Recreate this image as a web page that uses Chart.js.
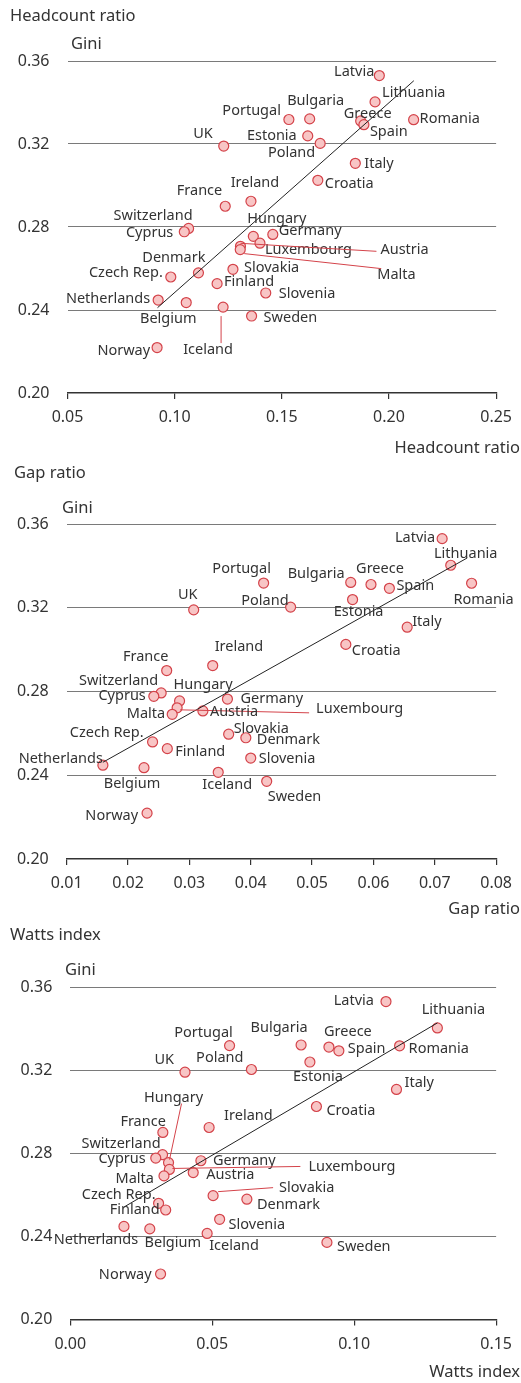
<!DOCTYPE html>
<html>
<head>
<meta charset="utf-8">
<script src="https://cdn.jsdelivr.net/npm/chart.js@4"></script>
<style>
  body { margin: 0; background: #fff; }
  canvas { position: absolute; left: 0; }
</style>
</head>
<body>
<canvas id="c1" width="521" height="460" style="top:0px"></canvas>
<canvas id="c2" width="521" height="460" style="top:460px"></canvas>
<canvas id="c3" width="521" height="463" style="top:920px"></canvas>
<script>
// data
const countries = ["Latvia", "Lithuania", "Romania", "Portugal", "Bulgaria", "Greece", "Spain",
  "Estonia", "Poland", "UK", "Italy", "Croatia", "Ireland", "France", "Switzerland", "Cyprus",
  "Hungary", "Germany", "Luxembourg", "Austria", "Malta", "Slovakia", "Denmark", "Czech Rep.",
  "Finland", "Slovenia", "Netherlands", "Belgium", "Iceland", "Sweden", "Norway"];
const gini = [0.353, 0.3403, 0.3317, 0.3318, 0.3321, 0.3311, 0.3293, 0.3239, 0.3203, 0.319,
  0.3107, 0.3025, 0.2924, 0.29, 0.2793, 0.2777, 0.2755, 0.2764, 0.2722, 0.2707, 0.2691, 0.2596,
  0.2579, 0.2559, 0.2527, 0.2482, 0.2448, 0.2436, 0.2414, 0.2371, 0.2219];
const headcount = [0.1955, 0.1935, 0.2115, 0.1533, 0.163, 0.1868, 0.1883, 0.1621, 0.1679, 0.1229,
  0.1843, 0.1668, 0.1356, 0.1236, 0.1065, 0.1045, 0.1367, 0.1458, 0.1398, 0.1307, 0.1306, 0.1272,
  0.1111, 0.0982, 0.1198, 0.1425, 0.0923, 0.1054, 0.1226, 0.1359, 0.0918];
const gapRatio = [0.0712, 0.0726, 0.076, 0.0421, 0.0563, 0.0596, 0.0626, 0.0566, 0.0465, 0.0307,
  0.0655, 0.0555, 0.0338, 0.0263, 0.0254, 0.0242, 0.0284, 0.0362, 0.028, 0.0322, 0.0272, 0.0364,
  0.0392, 0.024, 0.0264, 0.04, 0.0159, 0.0226, 0.0347, 0.0426, 0.0231];
const wattsIndex = [0.1112, 0.1293, 0.116, 0.0561, 0.0813, 0.0911, 0.0946, 0.0844, 0.0638, 0.0404,
  0.1149, 0.0867, 0.0489, 0.0326, 0.0325, 0.0301, 0.0346, 0.046, 0.0349, 0.0433, 0.033, 0.0503,
  0.0622, 0.0311, 0.0336, 0.0526, 0.0189, 0.028, 0.0482, 0.0904, 0.0318];

// fitted lines (ends)
const fitHeadcountX = [0.092, 0.2116];
const fitHeadcountY = [0.2411, 0.3505];
const fitGapX = [0.0159, 0.0753];
const fitGapY = [0.2462, 0.3438];
const fitWattsX = [0.0189, 0.1293];
const fitWattsY = [0.2541, 0.3427];

// ticks
const giniTicks = [0.2, 0.24, 0.28, 0.32, 0.36];
const headcountTicks = [0.05, 0.1, 0.15, 0.2, 0.25];
const gapTicks = [0.01, 0.02, 0.03, 0.04, 0.05, 0.06, 0.07, 0.08];
const wattsTicks = [0, 0.05, 0.1, 0.15];

// label placement: [dx, dy, align, leader line]
const labels1 = {
  "Latvia": [-5, -4, "right"], "Lithuania": [7, -9, "left"], "Romania": [6, -1, "left"],
  "Portugal": [-8, -9, "right"], "Bulgaria": [6, -18, "center"], "Greece": [7, -7, "center"],
  "Spain": [6, 7, "left"], "Estonia": [-11, 0, "right"], "Poland": [-5, 9, "right"],
  "UK": [-11, -12, "right"], "Italy": [9, 1, "left"], "Croatia": [7, 4, "left"],
  "Ireland": [4, -18, "center"], "France": [-3, -15, "right"], "Switzerland": [4, -13, "right"],
  "Cyprus": [-11, 1, "right"], "Hungary": [-6, -17, "left"], "Germany": [6, -4, "left"],
  "Luxembourg": [5, 7, "left"], "Austria": [140, 4, "left", [0, -3, 136, 5]],
  "Malta": [137, 25, "left", [4, 4, 141, 19]], "Slovakia": [11, -1, "left"],
  "Denmark": [7, -15, "right"], "Czech Rep.": [-8, -4, "right"], "Finland": [7, -2, "left"],
  "Slovenia": [13, 1, "left"], "Netherlands": [-8, -1, "right"], "Belgium": [-18, 16, "center"],
  "Iceland": [-15, 43, "center", [-2, 9, -2, 36]], "Sweden": [12, 2, "left"], "Norway": [-7, 3, "right"]
};
const labels2 = {
  "Latvia": [-7, -1, "right"], "Lithuania": [15, -11, "center"], "Romania": [12, 17, "center"],
  "Portugal": [-22, -14, "center"], "Bulgaria": [-6, -9, "right"], "Greece": [9, -16, "center"],
  "Spain": [7, -2, "left"], "Estonia": [6, 12, "center"], "Poland": [-2, -6, "right"],
  "UK": [-6, -15, "center"], "Italy": [5, -5, "left"], "Croatia": [6, 6, "left"],
  "Ireland": [2, -19, "left"], "France": [-21, -14, "center"], "Switzerland": [-3, -12, "right"],
  "Cyprus": [-8, 0, "right"], "Hungary": [-6, -16, "left"], "Germany": [13, 0, "left"],
  "Luxembourg": [139, 1, "left", [3, 2, 132, 5]], "Austria": [7, 1, "left"], "Malta": [-7, 0, "right"],
  "Slovakia": [5, -5, "left"], "Denmark": [11, 2, "left"], "Czech Rep.": [-9, -9, "right"],
  "Finland": [8, 3, "left"], "Slovenia": [8, 1, "left"], "Netherlands": [0, -6, "right"],
  "Belgium": [-12, 16, "center"], "Iceland": [9, 13, "center"], "Sweden": [1, 16, "left"],
  "Norway": [-9, 3, "right"]
};
const labels3 = {
  "Latvia": [-12, -1, "right"], "Lithuania": [16, -18, "center"], "Romania": [9, 3, "left"],
  "Portugal": [-26, -13, "center"], "Bulgaria": [-22, -17, "center"], "Greece": [19, -15, "center"],
  "Spain": [9, -2, "left"], "Estonia": [8, 15, "center"], "Poland": [-8, -12, "right"],
  "UK": [-11, -12, "right"], "Italy": [8, -7, "left"], "Croatia": [10, 4, "left"],
  "Ireland": [15, -12, "left"], "France": [3, -11, "right"], "Switzerland": [-2, -11, "right"],
  "Cyprus": [-10, 1, "right"], "Hungary": [5, -65, "center", [13, -59, 1, -3]],
  "Germany": [12, 0, "left"], "Luxembourg": [139, -3, "left", [3, -1, 131, -3]],
  "Austria": [13, 2, "left"], "Malta": [-10, 3, "right"],
  "Slovakia": [66, -8, "left", [5, -4, 60, -8]], "Denmark": [10, 6, "left"],
  "Czech Rep.": [-3, -8, "right"], "Finland": [-6, 0, "right"], "Slovenia": [9, 6, "left"],
  "Netherlands": [-28, 13, "center"], "Belgium": [23, 14, "center"], "Iceland": [2, 12, "left"],
  "Sweden": [10, 4, "left"], "Norway": [-9, 1, "right"]
};

const TEXT = "#333";
const FONT = '"Noto Sans", sans-serif';

const panels = [
  { id: "c1", title: "Headcount ratio", xs: headcount, xTicks: headcountTicks,
    fitX: fitHeadcountX, fitY: fitHeadcountY, labels: labels1,
    box: { top: 61, bottom: 393, left: 67.5, right: 502 },
    titlePos: [10, 16], giniPos: [71, 44], xTitleY: 448 },
  { id: "c2", title: "Gap ratio", xs: gapRatio, xTicks: gapTicks,
    fitX: fitGapX, fitY: fitGapY, labels: labels2,
    box: { top: 64, bottom: 399, left: 66.7, right: 502.3 },
    titlePos: [14, 13], giniPos: [62, 48], xTitleY: 449 },
  { id: "c3", title: "Watts index", xs: wattsIndex, xTicks: wattsTicks,
    fitX: fitWattsX, fitY: fitWattsY, labels: labels3,
    box: { top: 67, bottom: 399.5, left: 70.3, right: 502.3 },
    titlePos: [10, 15], giniPos: [65, 50], xTitleY: 452 }
];

// country labels and leader lines
const labelPlugin = {
  id: "countryLabels",
  afterDatasetsDraw(chart, args, opts) {
    const { ctx, scales } = chart;
    ctx.save();
    ctx.font = "14.5px " + FONT;
    ctx.fillStyle = TEXT;
    ctx.textBaseline = "middle";
    countries.forEach((name, i) => {
      const spec = opts.labels[name];
      if (!spec) return;
      const px = scales.x.getPixelForValue(opts.xs[i]);
      const py = scales.y.getPixelForValue(gini[i]);
      if (spec[3]) {
        const l = spec[3];
        ctx.strokeStyle = "#d4434a";
        ctx.lineWidth = 1;
        ctx.beginPath();
        ctx.moveTo(px + l[0], py + l[1]);
        ctx.lineTo(px + l[2], py + l[3]);
        ctx.stroke();
      }
      ctx.textAlign = spec[2];
      ctx.fillText(name, px + spec[0], py + spec[1]);
    });
    ctx.restore();
  }
};

// panel title, "Gini" and x-axis title
const titlePlugin = {
  id: "panelTitles",
  afterDraw(chart, args, opts) {
    const ctx = chart.ctx;
    ctx.save();
    ctx.fillStyle = TEXT;
    ctx.textBaseline = "middle";
    ctx.font = "16.5px " + FONT;
    ctx.textAlign = "left";
    ctx.fillText(opts.title, opts.titlePos[0], opts.titlePos[1]);
    ctx.fillText("Gini", opts.giniPos[0], opts.giniPos[1]);
    ctx.textAlign = "right";
    ctx.fillText(opts.title, 520, opts.xTitleY);
    ctx.restore();
  }
};

function makeChart(p) {
  const canvas = document.getElementById(p.id);
  const h = canvas.height;
  const points = p.xs.map((v, i) => ({ x: v, y: gini[i] }));
  const fit = p.fitX.map((v, i) => ({ x: v, y: p.fitY[i] }));

  new Chart(canvas, {
    type: "scatter",
    data: {
      datasets: [
        {
          type: "line",
          data: fit,
          borderColor: "#222",
          borderWidth: 1,
          pointRadius: 0,
          fill: false,
          order: 0,
        },
        {
          data: points,
          pointRadius: 5,
          backgroundColor: "#f8c5c5",
          borderColor: "#d4434a",
          borderWidth: 1.2,
          order: 1,
        },
      ],
    },
    options: {
      responsive: false,
      animation: false,
      layout: {
        padding: { top: p.box.top, left: 0, right: 521 - p.box.right, bottom: 0 },
      },
      scales: {
        x: {
          type: "linear",
          min: p.xTicks[0],
          max: p.xTicks[p.xTicks.length - 1],
          afterBuildTicks: (s) => { s.ticks = p.xTicks.map((v) => ({ value: v })); },
          afterFit: (s) => { s.height = h - p.box.bottom; },
          ticks: {
            callback: (v) => Number(v).toFixed(2),
            font: { family: FONT, size: 16 },
            color: TEXT,
            padding: 9,
            maxRotation: 0,
            autoSkip: false,
          },
          grid: { drawOnChartArea: false, drawTicks: true, tickLength: 6, color: "#333", lineWidth: 1.2 },
          border: { display: true, color: "#333", width: 1.5 },
        },
        y: {
          min: giniTicks[0],
          max: giniTicks[giniTicks.length - 1],
          afterBuildTicks: (s) => { s.ticks = giniTicks.map((v) => ({ value: v })); },
          afterFit: (s) => { s.width = p.box.left; },
          ticks: {
            callback: (v) => Number(v).toFixed(2),
            font: { family: FONT, size: 16 },
            color: TEXT,
            padding: 18,
          },
          grid: {
            drawTicks: false,
            color: (c) => (c.tick && c.tick.value === giniTicks[0] ? "rgba(0,0,0,0)" : "#7a7a7a"),
            lineWidth: 1,
          },
          border: { display: false },
        },
      },
      plugins: {
        legend: { display: false },
        tooltip: { enabled: false },
        countryLabels: { xs: p.xs, labels: p.labels },
        panelTitles: { title: p.title, titlePos: p.titlePos, giniPos: p.giniPos, xTitleY: p.xTitleY },
      },
    },
    plugins: [labelPlugin, titlePlugin],
  });
}

panels.forEach(makeChart);
</script>
</body>
</html>
